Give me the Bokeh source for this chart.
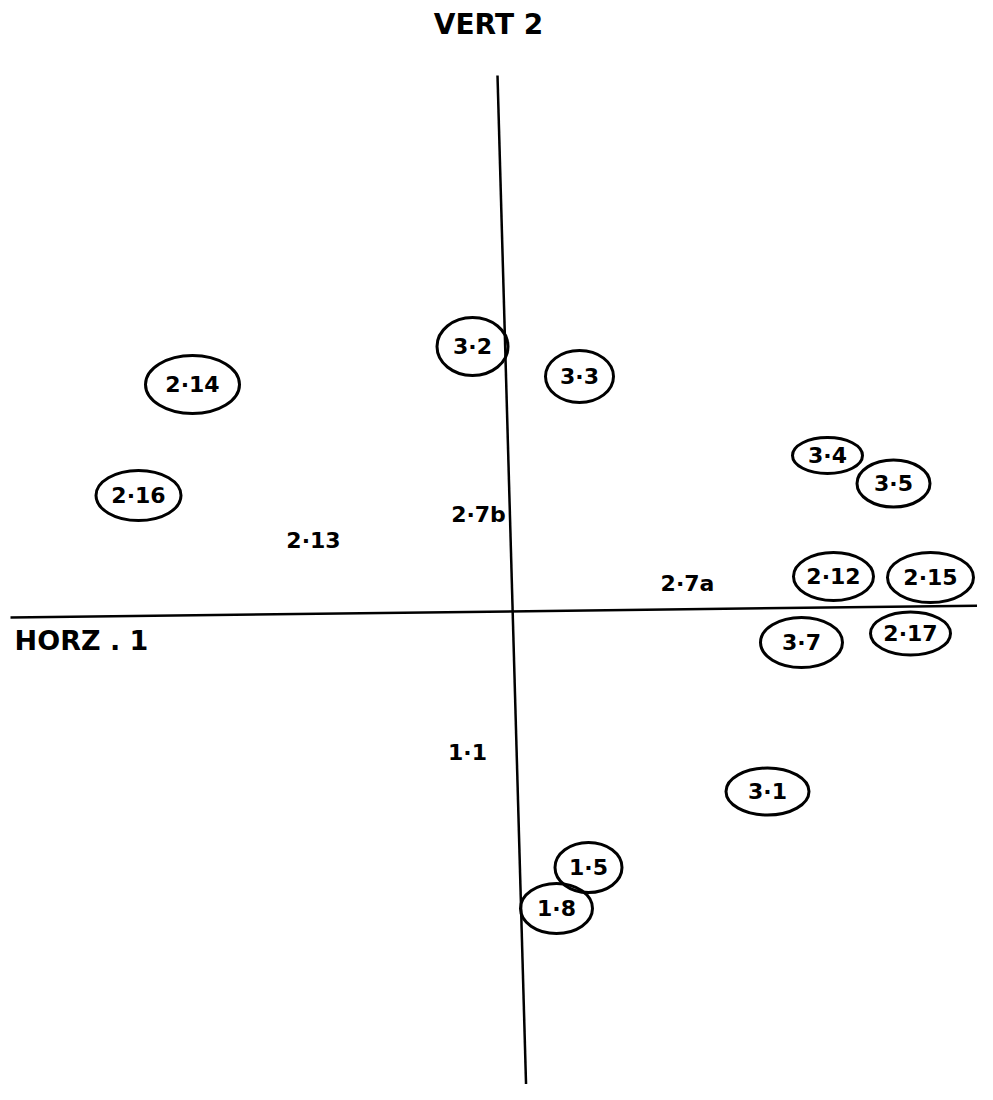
from bokeh.plotting import figure
from bokeh.models import Range1d, ColumnDataSource
from bokeh.core.properties import value
from bokeh.embed import file_html
from bokeh.resources import INLINE

# item labels and their scores on component 1 (horizontal) and 2 (vertical)
labels = ["3·2", "3·3", "2·14", "2·16", "2·13", "2·7b", "3·4", "3·5", "2·12",
          "2·15", "2·7a", "3·7", "2·17", "1·1", "3·1", "1·5", "1·8"]
horz1 = [-0.40, 0.67, -3.20, -3.74, -1.99, -0.34, 3.15, 3.81, 3.21,
         4.18, 1.75, 2.89, 3.98, -0.45, 2.55, 0.76, 0.44]
vert2 = [2.65, 2.35, 2.27, 1.16, 0.71, 0.97, 1.56, 1.28, 0.35,
         0.34, 0.28, -0.31, -0.22, -1.41, -1.80, -2.56, -2.97]
circled = [True, True, True, True, False, False, True, True, True,
           True, False, True, True, False, True, True, True]

# hand-drawn ring sizes (screen px) for circled items
ring_w = [71, 68, 94, 85, 0, 0, 70, 73, 80, 86, 0, 82, 80, 0, 83, 67, 72]
ring_h = [58, 52, 58, 50, 0, 0, 36, 47, 48, 50, 0, 50, 43, 0, 47, 50, 50]

# axis lines as drawn (slightly skewed)
vert_axis_x = [-0.15, 0.14]
vert_axis_y = [5.36, -4.89]
horz_axis_x = [-5.02, 4.81]
horz_axis_y = [-0.06, 0.06]

p = figure(width=977, height=1084, output_backend="svg", toolbar_location=None,
           x_range=Range1d(-5.12, 4.65), y_range=Range1d(-4.73, 6.11),
           min_border=0)
p.axis.visible = False
p.grid.visible = False
p.outline_line_color = None
p.background_fill_color = "white"
p.border_fill_color = "white"

p.line(vert_axis_x, vert_axis_y, line_color="black", line_width=2.5)
p.line(horz_axis_x, horz_axis_y, line_color="black", line_width=2.5)

ring_src = ColumnDataSource(dict(
    x=[x for x, c in zip(horz1, circled) if c],
    y=[y for y, c in zip(vert2, circled) if c],
    w=[w for w, c in zip(ring_w, circled) if c],
    h=[h for h, c in zip(ring_h, circled) if c],
))
p.ellipse(x="x", y="y", width="w", height="h", width_units="screen",
          height_units="screen", source=ring_src, fill_color=None,
          line_color="black", line_width=3)

txt_src = ColumnDataSource(dict(x=horz1, y=vert2, t=labels))
p.text(x="x", y="y", text="t", source=txt_src, text_align="center",
       text_baseline="middle", text_font=value("DejaVu Sans"),
       text_font_size="22px", text_font_style="bold", text_color="black")

# axis names
p.text(x=[-0.24], y=[5.87], text=["VERT 2"], text_align="center",
       text_baseline="middle", text_font=value("DejaVu Sans"),
       text_font_size="28px", text_font_style="bold", text_color="black")
p.text(x=[-4.31], y=[-0.29], text=["HORZ . 1"], text_align="center",
       text_baseline="middle", text_font=value("DejaVu Sans"),
       text_font_size="27px", text_font_style="bold", text_color="black")

open("out.html", "w").write(file_html(p, INLINE))
